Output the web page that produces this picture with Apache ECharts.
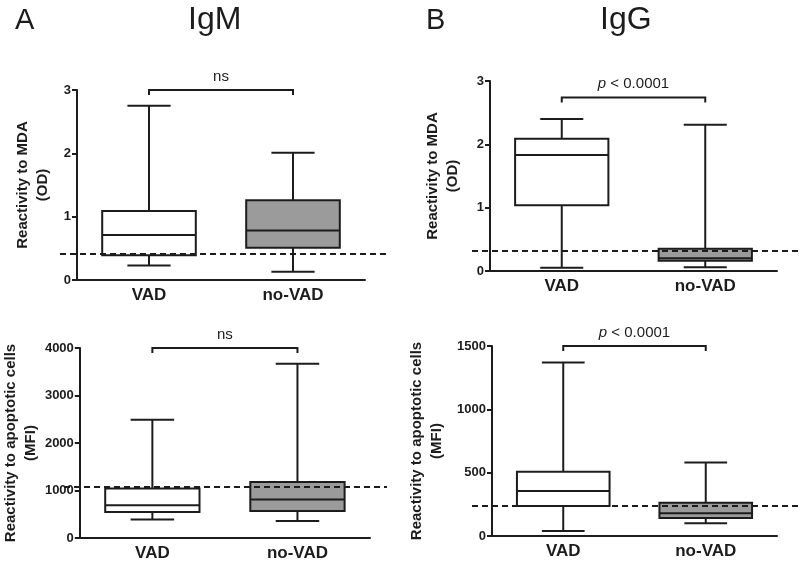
<!DOCTYPE html>
<html>
<head>
<meta charset="utf-8">
<script src="https://cdn.jsdelivr.net/npm/echarts@6/dist/echarts.min.js"></script>
<style>
  html, body { margin: 0; padding: 0; background: #fff; }
  #main { width: 800px; height: 562px; }
</style>
</head>
<body>
<div id="main"></div>
<script>
// groups on the x axis
const categories = ['VAD', 'no-VAD']
// box data per group: [min, Q1, median, Q3, max]
const igmMda = [[0.23, 0.39, 0.71, 1.09, 2.75], [0.13, 0.51, 0.78, 1.26, 2.01]]
const iggMda = [[0.05, 1.04, 1.83, 2.09, 2.40], [0.06, 0.16, 0.20, 0.35, 2.31]]
const igmApo = [[390, 550, 690, 1040, 2490], [360, 570, 810, 1180, 3670]]
const iggApo = [[40, 236, 355, 507, 1370], [100, 142, 179, 262, 581]]
// dashed cut-off per panel
const cutoffs = [0.42, 0.32, 1074, 239]
// significance brackets: height and label
const bracketY = [3, 2.74, 4000, 1500]
const bracketText = ['ns', '{i|p} < 0.0001', 'ns', '{i|p} < 0.0001']
// y axis ranges and ticks
const yMax = [3, 3, 4000, 1500]
const yStep = [1, 1, 1000, 500]

const ink = '#1c1c1c'
const boxFill = ['#ffffff', '#9b9b9b']
const font = 'Arial, "Liberation Sans", sans-serif'

const panels = [igmMda, iggMda, igmApo, iggApo]
const yNames = [
  'Reactivity to MDA\n(OD)',
  'Reactivity to MDA\n(OD)',
  'Reactivity to apoptotic cells\n(MFI)',
  'Reactivity to apoptotic cells\n(MFI)'
]
const grids = [
  { left: 77, right: 435, top: 90, bottom: 282 },
  { left: 490, right: 23, top: 81, bottom: 291 },
  { left: 78, right: 430, top: 348, bottom: 24 },
  { left: 492, right: 23, top: 346, bottom: 26 }
]
const nameGaps = [24, 27, 37, 45]
// dashed line horizontal extent (px)
const dashX = [[60, 387], [472, 800], [64, 387], [472, 800]]

function renderBox (params, api) {
  const cat = api.value(0)
  const lo = api.coord([cat, api.value(1)])
  const q1 = api.coord([cat, api.value(2)])
  const md = api.coord([cat, api.value(3)])
  const q3 = api.coord([cat, api.value(4)])
  const hi = api.coord([cat, api.value(5)])
  const band = api.size([1, 0])[0]
  const bw = band * 0.65
  const cw = band * 0.3
  const x = lo[0]
  const st = { stroke: ink, lineWidth: 2, fill: null }
  return {
    type: 'group',
    children: [
      { type: 'line', shape: { x1: x, y1: hi[1], x2: x, y2: q3[1] }, style: st },
      { type: 'line', shape: { x1: x, y1: q1[1], x2: x, y2: lo[1] }, style: st },
      { type: 'line', shape: { x1: x - cw / 2, y1: hi[1], x2: x + cw / 2, y2: hi[1] }, style: st },
      { type: 'line', shape: { x1: x - cw / 2, y1: lo[1], x2: x + cw / 2, y2: lo[1] }, style: st },
      {
        type: 'rect',
        shape: { x: x - bw / 2, y: q3[1], width: bw, height: q1[1] - q3[1] },
        style: { fill: boxFill[cat], stroke: ink, lineWidth: 2 }
      },
      { type: 'line', shape: { x1: x - bw / 2, y1: md[1], x2: x + bw / 2, y2: md[1] }, style: st }
    ]
  }
}

function renderBracket (params, api) {
  const a = api.coord([api.value(0), api.value(2)])
  const b = api.coord([api.value(1), api.value(2)])
  return {
    type: 'group',
    children: [
      {
        type: 'polyline',
        shape: { points: [[a[0], a[1] + 5], [a[0], a[1]], [b[0], b[1]], [b[0], b[1] + 5]] },
        style: { stroke: ink, lineWidth: 2, fill: null }
      },
      {
        type: 'text',
        x: (a[0] + b[0]) / 2,
        y: a[1] - 6,
        style: {
          text: bracketText[params.seriesIndex / 2 | 0],
          align: 'center',
          verticalAlign: 'bottom',
          fontSize: 15,
          fontFamily: font,
          fill: ink,
          rich: { i: { fontStyle: 'italic', fontSize: 15, fontFamily: font, fill: ink } }
        }
      }
    ]
  }
}

const xAxes = []
const yAxes = []
const series = []
panels.forEach((d, i) => {
  xAxes.push({
    type: 'category',
    gridIndex: i,
    data: categories,
    axisLine: { lineStyle: { color: ink, width: 2 } },
    axisTick: { alignWithLabel: true, length: 5, lineStyle: { color: ink, width: 2 } },
    axisLabel: { color: ink, fontSize: 17, fontWeight: 'bold', fontFamily: font, margin: 7 }
  })
  yAxes.push({
    type: 'value',
    gridIndex: i,
    min: 0,
    max: yMax[i],
    interval: yStep[i],
    name: yNames[i],
    nameLocation: 'middle',
    nameRotate: 90,
    nameGap: nameGaps[i],
    nameTextStyle: { color: ink, fontSize: 15, fontWeight: 'bold', fontFamily: font, lineHeight: 20 },
    axisLine: { show: true, lineStyle: { color: ink, width: 2 } },
    axisTick: { show: true, length: 5, lineStyle: { color: ink, width: 2 } },
    axisLabel: {
      color: ink,
      fontSize: 13,
      fontWeight: 'bold',
      fontFamily: font,
      margin: 6,
      formatter: v => String(v)
    },
    splitLine: { show: false }
  })
  series.push({
    type: 'custom',
    xAxisIndex: i,
    yAxisIndex: i,
    renderItem: renderBox,
    encode: { x: 0, y: [1, 2, 3, 4, 5] },
    data: d.map((v, k) => [k].concat(v)),
    markLine: {
      silent: true,
      symbol: ['none', 'none'],
      label: { show: false },
      lineStyle: { color: ink, width: 2, type: [6, 4] },
      data: [[{ x: dashX[i][0], yAxis: cutoffs[i] }, { x: dashX[i][1], yAxis: cutoffs[i] }]]
    }
  })
  series.push({
    type: 'custom',
    xAxisIndex: i,
    yAxisIndex: i,
    renderItem: renderBracket,
    encode: { x: [0, 1], y: 2 },
    data: [[0, 1, bracketY[i]]]
  })
})

const chart = echarts.init(document.getElementById('main'))
chart.setOption({
  backgroundColor: '#fff',
  animation: false,
  title: [
    { text: 'A', left: 10, top: 1, textStyle: { fontSize: 29, fontWeight: 'normal', color: ink, fontFamily: font } },
    { text: 'IgM', left: 183, top: -1, textStyle: { fontSize: 32, fontWeight: 'normal', color: ink, fontFamily: font } },
    { text: 'B', left: 421, top: 1, textStyle: { fontSize: 29, fontWeight: 'normal', color: ink, fontFamily: font } },
    { text: 'IgG', left: 595, top: -1, textStyle: { fontSize: 32, fontWeight: 'normal', color: ink, fontFamily: font } }
  ],
  grid: grids,
  xAxis: xAxes,
  yAxis: yAxes,
  series: series
})
</script>
</body>
</html>
